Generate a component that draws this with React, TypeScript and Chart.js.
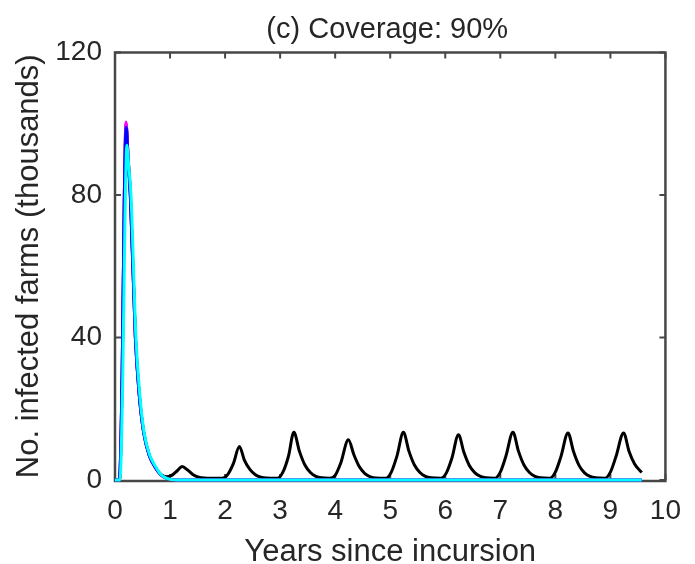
import { useEffect, useRef } from "react";
import { Chart, registerables } from "chart.js";

Chart.register(...registerables);

// ---- Data ----
const titleText = "(c) Coverage: 90%";
const xTitleText = "Years since incursion";
const yTitleText = "No. infected farms (thousands)";

const xTickValues = [0, 1, 2, 3, 4, 5, 6, 7, 8, 9, 10];
const yTickValues = [0, 40, 80, 120];

const magentaYears = [0, 0.08, 0.13, 0.17, 0.2, 0.24, 0.28, 0.37, 0.44, 0.52, 0.62, 0.73, 0.83, 0.93, 1.03, 1.13, 9.57];
const magentaValues = [0, 0, 30, 80, 100.5, 90, 80, 40, 24, 13.5, 7, 3.6, 1.5, 0.5, 0.1, 0, 0];

const blueYears = [0, 0.08, 0.13, 0.17, 0.205, 0.24, 0.28, 0.37, 0.44, 0.52, 0.62, 0.73, 0.83, 0.93, 1.03, 1.13, 9.57];
const blueValues = [0, 0, 30, 80, 99, 89, 79, 40, 24, 13.4, 7, 3.6, 1.5, 0.5, 0.1, 0, 0];

const cyanYears = [0, 0.09, 0.14, 0.18, 0.215, 0.25, 0.29, 0.38, 0.45, 0.53, 0.63, 0.74, 0.83, 0.93, 1.03, 1.13, 9.57];
const cyanValues = [0, 0, 28, 72, 94, 88, 80, 40, 24, 13.2, 7, 3.7, 1.6, 0.5, 0.1, 0, 0];

const blackYears = [
  0, 0.08, 0.13, 0.17, 0.2, 0.24, 0.28, 0.37, 0.44, 0.52, 0.62, 0.73, 0.83, 0.93,
  1.03, 1.13, 1.22, 1.32, 1.42, 1.52, 1.62, 1.75, 1.95,
  2.05, 2.15, 2.26, 2.35, 2.45, 2.55, 2.65, 2.75, 2.95,
  3.05, 3.15, 3.25, 3.35, 3.45, 3.55, 3.65, 3.75, 3.9,
  4.0, 4.1, 4.24, 4.34, 4.44, 4.54, 4.64, 4.74, 4.92,
  5.02, 5.12, 5.24, 5.34, 5.44, 5.54, 5.64, 5.74, 5.92,
  6.02, 6.12, 6.24, 6.34, 6.44, 6.54, 6.64, 6.74, 6.9,
  7.0, 7.1, 7.23, 7.33, 7.43, 7.53, 7.63, 7.73, 7.9,
  8.0, 8.1, 8.23, 8.33, 8.43, 8.53, 8.63, 8.73, 8.9,
  9.0, 9.1, 9.24, 9.34, 9.44, 9.57,
];
const blackValues = [
  0, 0, 30, 80, 100, 90, 80, 40, 24, 13.5, 7, 3.6, 1.6, 0.9,
  1.3, 2.6, 3.8, 2.8, 1.5, 0.8, 0.55, 0.5, 0.5,
  1.6, 4.6, 9.4, 5.6, 3, 1.5, 0.8, 0.55, 0.5,
  2.2, 6.6, 13.4, 8.1, 4.2, 2.1, 1, 0.6, 0.5,
  1.3, 4.7, 11.3, 7.1, 3.7, 1.8, 0.9, 0.55, 0.5,
  2.2, 6.6, 13.4, 8.1, 4.2, 2.1, 1, 0.6, 0.5,
  2, 6.1, 12.7, 7.7, 4, 2, 1, 0.6, 0.5,
  2.2, 6.6, 13.4, 8.1, 4.2, 2.1, 1, 0.6, 0.5,
  2.2, 6.5, 13.2, 8, 4.1, 2, 1, 0.6, 0.5,
  2.2, 6.5, 13.2, 8, 4.5, 2.1,
];

const FONT = '"Liberation Sans", Arial, Helvetica, sans-serif';
const TEXT_COLOR = "#262626";
const AXIS_COLOR = "#474747";

const toPoints = (xs: number[], ys: number[]) => xs.map((x, i) => ({ x, y: ys[i] }));

const framePlugin = {
  id: "matlabFrame",
  beforeDatasetsDraw(chart: any) {
    const { ctx, chartArea: a, scales } = chart;
    ctx.save();
    ctx.strokeStyle = AXIS_COLOR;
    ctx.lineWidth = 2.5;
    ctx.strokeRect(a.left, a.top, a.right - a.left, a.bottom + 1 - a.top);
    ctx.lineWidth = 2;
    const L = 6;
    ctx.beginPath();
    for (const v of xTickValues) {
      const x = scales.x.getPixelForValue(v);
      ctx.moveTo(x, a.bottom);
      ctx.lineTo(x, a.bottom - L);
      ctx.moveTo(x, a.top);
      ctx.lineTo(x, a.top + L);
    }
    for (const v of yTickValues) {
      const y = scales.y.getPixelForValue(v);
      ctx.moveTo(a.left, y);
      ctx.lineTo(a.left + L, y);
      ctx.moveTo(a.right, y);
      ctx.lineTo(a.right - L, y);
    }
    ctx.stroke();

    ctx.fillStyle = TEXT_COLOR;
    ctx.textAlign = "center";
    ctx.textBaseline = "alphabetic";
    const cx = (a.left + a.right) / 2;
    ctx.font = `29px ${FONT}`;
    ctx.fillText(titleText, cx - 3, 38);
    ctx.font = `31px ${FONT}`;
    ctx.fillText(xTitleText, cx, 561);
    ctx.translate(38, (a.top + a.bottom) / 2);
    ctx.rotate(-Math.PI / 2);
    ctx.fillText(yTitleText, 0, 0);
    ctx.restore();
  },
};

export default function App() {
  const canvasRef = useRef<HTMLCanvasElement | null>(null);

  useEffect(() => {
    if (!canvasRef.current) return;
    const lineDs = (label: string, color: string, xs: number[], ys: number[]) => ({
      label,
      data: toPoints(xs, ys),
      borderColor: color,
      backgroundColor: color,
      borderWidth: 3,
      pointRadius: 0,
      cubicInterpolationMode: "monotone" as const,
      fill: false,
      clip: 3,
    });
    const chart = new Chart(canvasRef.current, {
      type: "line",
      data: {
        datasets: [
          lineDs("cyan", "#00ffff", cyanYears, cyanValues),
          lineDs("blue", "#0000ff", blueYears, blueValues),
          lineDs("magenta", "#ff00ff", magentaYears, magentaValues),
          lineDs("black", "#000000", blackYears, blackValues),
        ],
      },
      options: {
        responsive: false,
        animation: false,
        layout: { padding: { left: 0, right: 19, top: 52.5, bottom: 0 } },
        plugins: {
          legend: { display: false },
          title: { display: false },
          tooltip: { enabled: false },
        },
        scales: {
          x: {
            type: "linear",
            min: 0,
            max: 10,
            grid: { display: false, drawTicks: false },
            border: { display: false },
            ticks: {
              stepSize: 1,
              autoSkip: false,
              maxRotation: 0,
              color: TEXT_COLOR,
              font: { family: FONT, size: 28 },
              padding: 14,
            },
            afterFit: (s: any) => {
              s.height = 84;
            },
          },
          y: {
            type: "linear",
            min: 0,
            max: 120,
            grid: { display: false, drawTicks: false },
            border: { display: false },
            ticks: {
              stepSize: 40,
              color: TEXT_COLOR,
              font: { family: FONT, size: 28 },
              padding: 13,
            },
            afterFit: (s: any) => {
              s.width = 115;
            },
          },
        },
      },
      plugins: [framePlugin],
    });
    return () => chart.destroy();
  }, []);

  return (
    <div style={{ position: "absolute", left: 0, top: 0, width: 695, height: 564, background: "#fff" }}>
      <canvas ref={canvasRef} width={695} height={564} style={{ display: "block" }} />
    </div>
  );
}
